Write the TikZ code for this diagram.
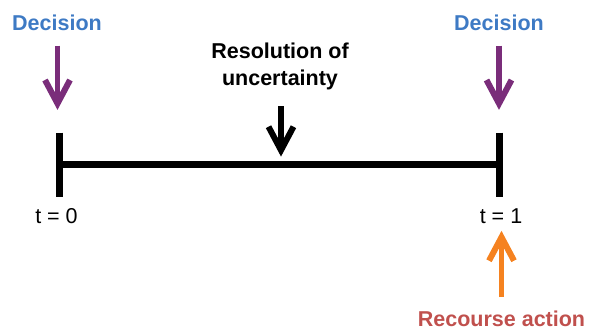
\documentclass[tikz,border=0pt]{standalone}
\usepackage{fontspec}
\setmainfont{Liberation Sans}
\usetikzlibrary{calc}
\definecolor{decblue}{RGB}{62,122,196}
\definecolor{decpurple}{RGB}{122,45,122}
\definecolor{recorange}{RGB}{245,130,32}
\definecolor{recred}{RGB}{192,80,77}
\begin{document}
\begin{tikzpicture}[x=1pt,y=-1pt,
  lbl/.style={inner sep=0pt, anchor=base, font=\fontsize{21.5}{26}\selectfont\bfseries},
  tlbl/.style={inner sep=0pt, anchor=base, font=\fontsize{21.5}{26}\selectfont},
  shaft/.style={line width=5.5pt},
  chev/.style={line width=6pt, line join=miter},
  bar/.style={line width=6.5pt}]
\useasboundingbox (0,0) rectangle (589,330);

% timeline
\coordinate (t0top) at (59.3,132.7);
\coordinate (t0bot) at (59.3,197);
\coordinate (t0mid) at (59.3,164.3);
\coordinate (t1top) at (499.3,132.7);
\coordinate (t1bot) at (499.3,197);
\coordinate (t1mid) at (499.3,164.3);
\draw[bar] (t0mid) -- (t1mid);
\draw[bar] (t0top) -- (t0bot);
\draw[bar] (t1top) -- (t1bot);

% labels
\node[lbl, text=decblue] (dec0) at (57,30) {Decision};
\node[lbl, text=decblue] (dec1) at (499,30) {Decision};
\node[lbl] (res1) at (280,58) {Resolution of};
\node[lbl] (res2) at (280,85) {uncertainty};
\node[tlbl] (tz) at (56.5,223) {t = 0};
\node[tlbl] (to) at (501,223) {t = 1};
\node[lbl, text=recred] (rec) at (501.5,326.5) {Recourse action};

% left purple arrow
\coordinate (a0s) at (57.5,45.5);
\coordinate (a0v) at (57.5,103.5);
\draw[shaft, decpurple] (a0s) -- (a0v);
\draw[chev, decpurple] ($(a0v)+(-12.5,-23.5)$) -- (a0v) -- ($(a0v)+(12.5,-23.5)$);

% right purple arrow
\coordinate (a1s) at (499,45.5);
\coordinate (a1v) at (499,103.5);
\draw[shaft, decpurple] (a1s) -- (a1v);
\draw[chev, decpurple] ($(a1v)+(-12.5,-23.5)$) -- (a1v) -- ($(a1v)+(12.5,-23.5)$);

% black arrow
\coordinate (bs) at (281,106);
\coordinate (bv) at (281,150.2);
\draw[shaft, black] (bs) -- (bv);
\draw[chev, black] ($(bv)+(-12.5,-23.5)$) -- (bv) -- ($(bv)+(12.5,-23.5)$);

% orange arrow (up)
\coordinate (os) at (501.5,297);
\coordinate (ov) at (501.5,237.2);
\draw[shaft, recorange] (os) -- (ov);
\draw[chev, recorange] ($(ov)+(-12.5,23.5)$) -- (ov) -- ($(ov)+(12.5,23.5)$);
\end{tikzpicture}
\end{document}
